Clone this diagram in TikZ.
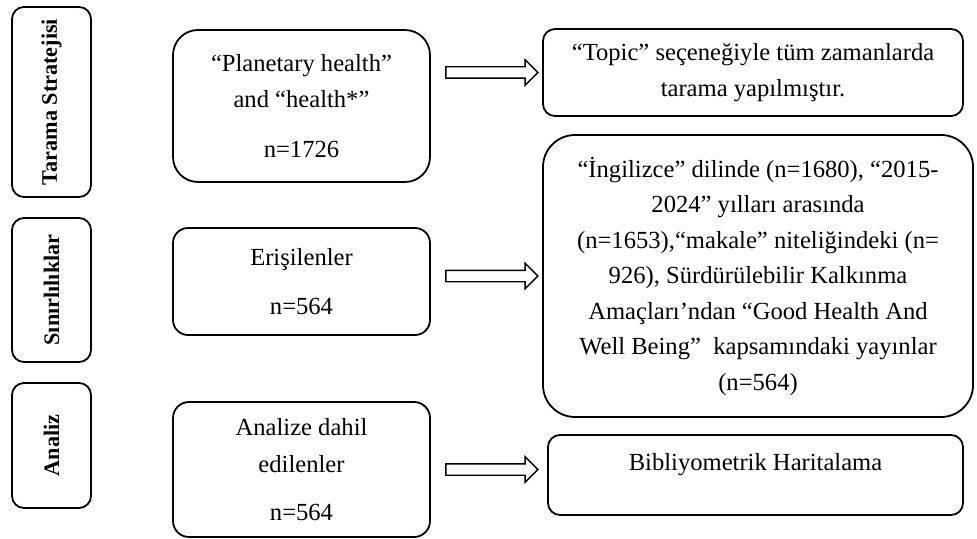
\documentclass[tikz,border=0pt]{standalone}
\usepackage{fontspec}
\setmainfont{Liberation Serif}
\usetikzlibrary{shapes.arrows}

\begin{document}
\begin{tikzpicture}[x=0.5pt,y=-0.5pt,
	box/.style={draw,line width=0.9pt,rounded corners=#1,align=center,inner sep=0pt,font=\fontsize{12.3}{17.75}\selectfont},
	box/.default=7.5pt,
	side/.style={draw,line width=0.9pt,rounded corners=6pt,rotate=90,inner sep=0pt,font=\fontsize{11.1}{12}\selectfont\bfseries},
	blockarrow/.style={draw,line width=0.7pt,single arrow,single arrow head extend=3.5pt,single arrow tip angle=90,text height=2.5pt,text depth=2.5pt,minimum height=46pt,inner sep=0pt}]
	\useasboundingbox (0,0) rectangle (977,539);
	\node[side,minimum width=95pt,minimum height=39.5pt] (scan) at (51.5,102) {Tarama Stratejisi};
	\node[side,minimum width=72pt,minimum height=39.5pt] (limits) at (51.5,290) {Sınırlılıklar};
	\node[side,minimum width=62.5pt,minimum height=39.5pt] (analysis) at (51.5,445.5) {Analiz};
	\node[box=12.5pt,minimum width=128.5pt,minimum height=76pt] (query) at (301.5,106) {“Planetary health”\\ and “health*”\\[7.25pt] n=1726};
	\node[box=6pt,minimum width=210pt,minimum height=43.5pt] (topic) at (753,72.5) {“Topic” seçeneğiyle tüm zamanlarda\\ tarama yapılmıştır.};
	\node[box,minimum width=128.5pt,minimum height=53.5pt] (access) at (301.5,281.5) {Erişilenler\\[7pt] n=564};
	\node[box=16pt,minimum width=215pt,minimum height=141pt] (filter) at (758,276) {“İngilizce” dilinde (n=1680), “2015-\\ 2024” yılları arasında\\ (n=1653),“makale” niteliğindeki (n=\\ 926), Sürdürülebilir Kalkınma\\ Amaçları’ndan “Good Health And\\ Well Being”~ kapsamındaki yayınlar\\ (n=564)};
	\node[box=8pt,minimum width=128.5pt,minimum height=67.5pt] (included) at (301.5,469.5) {Analize dahil\\[0.75pt] edilenler\\[6.25pt] n=564};
	\node[box=6pt,minimum width=207.5pt,minimum height=40pt,text height=8.5pt,text depth=13pt] (mapping) at (755.5,475) {Bibliyometrik Haritalama};
	\path (query.east |- topic.west) -- (topic.west) node[midway,blockarrow,xshift=1.25pt] {};
	\path (access.east |- filter.west) -- (filter.west) node[midway,blockarrow,xshift=1.25pt] {};
	\path (included.east) -- (included.east -| mapping.west) node[midway,blockarrow] {};
\end{tikzpicture}
\end{document}
